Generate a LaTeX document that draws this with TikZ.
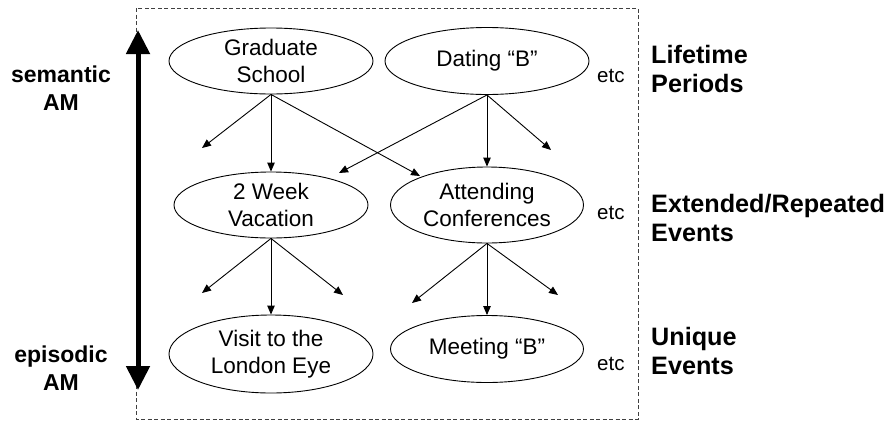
\documentclass[tikz,border=0pt]{standalone}
\usepackage{fontspec}
\setmainfont{Liberation Sans}
\usetikzlibrary{shapes.geometric,arrows.meta}
\tikzset{
  memnode/.style={draw=black, line width=0.9pt, ellipse, inner sep=0pt, align=center,
    font=\fontsize{22.5}{27}\selectfont},
  link/.style={line width=0.9pt, -{Triangle[length=9pt,width=7.5pt]}},
  etcnote/.style={anchor=base west, inner sep=0pt, font=\fontsize{20.5}{24}\selectfont},
  levellabel/.style={anchor=west, inner sep=0pt, align=left, font=\bfseries\fontsize{25.2}{29}\selectfont},
  amlabel/.style={anchor=center, inner sep=0pt, align=center, font=\bfseries\fontsize{23}{27.5}\selectfont},
  framebox/.style={draw=black!75, line width=0.8pt, dash pattern=on 4pt off 2.5pt},
  axisarrow/.style={line width=5pt, {Triangle[length=24pt,width=23pt]}-{Triangle[length=24pt,width=23pt]}}
}
\begin{document}
\begin{tikzpicture}[x=1pt,y=-1pt]
\useasboundingbox (0,0) rectangle (893,421);
\draw[framebox] (136,8) rectangle (638,419);

% ellipses
\node[memnode, minimum width=204pt, minimum height=66pt] (gs) at (271,61) {Graduate\\School};
\node[memnode, minimum width=204pt, minimum height=67pt] (db) at (487,61) {Dating “B”};
\node[memnode, minimum width=194pt, minimum height=66pt] (wv) at (271,205) {2 Week\\Vacation};
\node[memnode, minimum width=193pt, minimum height=76pt] (ac) at (487,205) {Attending\\Conferences};
\node[memnode, minimum width=204pt, minimum height=78pt] (le) at (271,354) {Visit to the\\London Eye};
\node[memnode, minimum width=193pt, minimum height=67pt] (mb) at (487,349) {Meeting “B”};

% etc notes
\node[etcnote] (e1) at (597,82) {etc};
\node[etcnote] (e2) at (597,219) {etc};
\node[etcnote] (e3) at (597,370) {etc};

% level labels
\node[levellabel] (l1) at (651,69) {Lifetime\\Periods};
\node[levellabel] (l2) at (651,218) {Extended/Repeated\\Events};
\node[levellabel] (l3) at (651,351) {Unique\\Events};

% axis
\coordinate (atop) at (138,30);
\coordinate (abot) at (138,390);
\draw[axisarrow] (abot) -- (atop);
\node[amlabel] (sem) at (61,88) {semantic\\AM};
\node[amlabel] (epi) at (61,368) {episodic\\AM};

% free arrow ends
\coordinate (g1) at (202,148);
\coordinate (g3) at (420,176);
\coordinate (d1) at (339,173);
\coordinate (d3) at (551,150);
\coordinate (w1) at (202,293);
\coordinate (w3) at (343,295);
\coordinate (a1) at (412,303);
\coordinate (a3) at (558,295);

% connectors
\draw[link] (gs.south) -- (g1);
\draw[link] (gs.south) -- (wv.north);
\draw[link] (gs.south) -- (g3);
\draw[link] (db.south) -- (d1);
\draw[link] (db.south) -- (ac.north);
\draw[link] (db.south) -- (d3);
\draw[link] (wv.south) -- (w1);
\draw[link] (wv.south) -- (le.north);
\draw[link] (wv.south) -- (w3);
\draw[link] (ac.south) -- (a1);
\draw[link] (ac.south) -- (mb.north);
\draw[link] (ac.south) -- (a3);
\end{tikzpicture}
\end{document}
